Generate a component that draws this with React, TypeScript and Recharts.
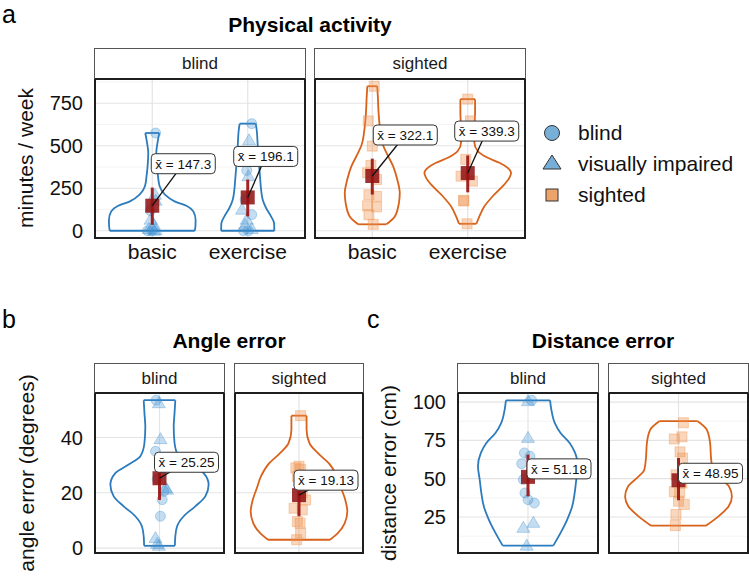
import { ScatterChart, Scatter, XAxis, YAxis, CartesianGrid } from "recharts";

const FONT = '"Liberation Sans", Arial, Helvetica, sans-serif';
const BLUE = "#2b7bbd";
const ORANGE = "#d8621a";
const MEAN_RED = "#8e0f0f";
const PAD = 14;

// ---------- a: physical activity (minutes / week) ----------
const activityCats = ["basic", "exercise"];
const activityTicks = [0, 250, 500, 750];
const activityMinor = [125, 375, 625, 875];

const actBlindBasicLevels = [0, 25, 65, 114, 144, 173, 213, 262, 321, 380, 459, 518, 575];
const actBlindBasicWidths = [0.445, 0.452, 0.454, 0.43, 0.367, 0.234, 0.133, 0.077, 0.06, 0.049, 0.042, 0.055, 0.073];
const actBlindBasicValues = [575, 212, 177, 118, 65, 35, 10, 5, 0, 0, 0];
const actBlindBasicJitter = [0.035, 0.028, 0.035, -0.02, -0.017, 0.017, -0.035, 0.035, -0.05, 0, 0.02];
const actBlindBasicGroups = ["c", "t", "t", "c", "t", "t", "t", "t", "c", "c", "t"];

const actBlindExLevels = [0, 45, 85, 134, 183, 242, 301, 399, 498, 597, 630];
const actBlindExWidths = [0.279, 0.276, 0.244, 0.192, 0.157, 0.14, 0.131, 0.117, 0.105, 0.093, 0.084];
const actBlindExValues = [630, 532, 404, 355, 321, 183, 124, 95, 65, 35, 10, 0, 0];
const actBlindExJitter = [0.042, 0.014, -0.01, -0.01, 0.007, -0.028, -0.06, 0.042, -0.01, -0.028, 0.042, -0.045, 0.007];
const actBlindExGroups = ["c", "t", "t", "c", "t", "c", "t", "c", "t", "t", "t", "c", "c"];

const actSightedBasicLevels = [38, 84, 163, 222, 301, 380, 439, 503, 597, 695, 794, 850];
const actSightedBasicWidths = [0.148, 0.236, 0.279, 0.288, 0.262, 0.218, 0.166, 0.113, 0.082, 0.066, 0.058, 0.052];
const actSightedBasicValues = [850, 646, 498, 384, 341, 301, 212, 202, 147, 140, 94, 38];
const actSightedBasicJitter = [0.021, -0.042, 0, -0.014, -0.049, 0.045, -0.035, 0.045, -0.049, 0.045, -0.035, 0.01];

const actSightedExLevels = [41, 85, 144, 203, 262, 311, 340, 370, 400, 429, 469, 518, 597, 696, 774];
const actSightedExWidths = [0.091, 0.122, 0.175, 0.262, 0.367, 0.436, 0.454, 0.419, 0.332, 0.209, 0.105, 0.07, 0.07, 0.077, 0.077];
const actSightedExValues = [774, 646, 420, 321, 292, 179, 175, 41];
const actSightedExJitter = [0, 0.028, -0.02, -0.07, 0.05, -0.042, -0.042, -0.007];

const actMeans = [147.3, 196.1, 322.1, 339.3];
const actCiLow = [35, 85, 213, 226];
const actCiHigh = [254, 301, 424, 443];

// ---------- b: angle error (degrees) ----------
const angleTicks = [0, 20, 40];

const angBlindLevels = [0.8, 4.2, 7.8, 11.5, 15.1, 18.7, 22.9, 27.1, 30.2, 33.2, 38, 44, 48.8, 53.5];
const angBlindWidths = [0.143, 0.147, 0.163, 0.225, 0.333, 0.426, 0.457, 0.411, 0.287, 0.178, 0.14, 0.132, 0.14, 0.147];
const angBlindValues = [53.5, 52.4, 39.4, 35, 25, 21.7, 21.1, 20.5, 17.5, 11.5, 3.6, 1.5, 0.8];
const angBlindJitter = [-0.031, -0.006, 0.009, -0.037, -0.022, 0.056, 0.07, 0.04, 0.025, 0.009, -0.037, -0.022, -0.006];
const angBlindGroups = ["c", "t", "t", "c", "c", "t", "t", "c", "c", "c", "t", "t", "t"];

const angSightedLevels = [3, 5.4, 9, 13.3, 17.4, 21.7, 25.9, 30.7, 34.3, 38, 42.8, 47.9];
const angSightedWidths = [0.291, 0.364, 0.429, 0.453, 0.434, 0.395, 0.357, 0.279, 0.178, 0.098, 0.071, 0.071];
const angSightedValues = [47.9, 29.6, 29, 28.5, 25.9, 19.9, 17.4, 14.4, 13.8, 9.6, 9, 5.4, 3];
const angSightedJitter = [0.015, 0, -0.03, 0.015, -0.015, 0.03, 0.062, -0.046, 0.031, -0.015, 0.01, 0.015, -0.022];

const angMeans = [25.25, 19.13];
const angCiLow = [17.4, 11.5];
const angCiHigh = [33.1, 26.8];

// ---------- c: distance error (cm) ----------
const distTicks = [25, 50, 75, 100];
const distMinor = [12.5, 37.5, 62.5, 87.5];

const distBlindLevels = [6.3, 14.6, 23.3, 32, 40.7, 49.4, 58.1, 66.8, 73.3, 79.8, 86.4, 95.1, 101.1];
const distBlindWidths = [0.217, 0.279, 0.336, 0.379, 0.4, 0.414, 0.429, 0.404, 0.357, 0.279, 0.229, 0.2, 0.189];
const distBlindValues = [101.1, 100.6, 76.6, 66.8, 64.6, 59.8, 49.4, 40.7, 36.3, 34.1, 21.2, 17.9, 6.3];
const distBlindJitter = [0.031, 0, 0, -0.031, 0.017, -0.054, -0.04, -0.026, 0, 0.054, 0.046, -0.04, -0.011];
const distBlindGroups = ["c", "t", "t", "c", "c", "c", "c", "c", "c", "c", "t", "t", "t"];

const distSightedLevels = [19.3, 25.4, 31.9, 38.4, 44.9, 50.4, 55.8, 63.4, 73.2, 81.9, 87.5];
const distSightedWidths = [0.237, 0.345, 0.432, 0.461, 0.436, 0.36, 0.295, 0.281, 0.273, 0.245, 0.166];
const distSightedValues = [86.5, 77.3, 75.9, 67.5, 63.4, 52.5, 47.1, 41.6, 40.7, 35.3, 33.2, 26.6, 19.4];
const distSightedJitter = [0.042, 0.03, -0.036, 0.013, 0.035, -0.022, 0.03, -0.036, 0.01, 0, 0.05, -0.022, -0.027];

const distMeans = [51.18, 48.95];
const distCiLow = [38.5, 35.9];
const distCiHigh = [65.7, 63.5];

const legendLabels = ["blind", "visually impaired", "sighted"];

type ViolinSpec = {
  cat: number;
  levels: number[];
  widths: number[];
  values: number[];
  jitter: number[];
  groups: string[];
  mean: number;
  lo: number;
  hi: number;
  color: string;
  labelDx: number;
  labelDy: number;
};

const noShape = () => <g />;

const circleShape = (p: any) => (
  <circle cx={p.cx} cy={p.cy} r={5} fill="#3d8fd1" fillOpacity={0.3} stroke="#3d8fd1" strokeOpacity={0.35} />
);
const triangleShape = (p: any) => (
  <polygon
    points={`${p.cx},${p.cy - 6.5} ${p.cx - 6.5},${p.cy + 4.5} ${p.cx + 6.5},${p.cy + 4.5}`}
    fill="#3d8fd1"
    fillOpacity={0.3}
    stroke="#3d8fd1"
    strokeOpacity={0.35}
  />
);
const squareShape = (p: any) => (
  <rect x={p.cx - 5} y={p.cy - 5} width={10} height={10} fill="#ee9350" fillOpacity={0.38} stroke="#ee9350" strokeOpacity={0.4} />
);
const meanShape = (p: any) => (
  <rect x={p.cx - 7} y={p.cy - 7} width={14} height={14} fill={MEAN_RED} fillOpacity={0.85} />
);
const labelShape = (p: any) => {
  const d = p.payload;
  const bx = p.cx + d.dx;
  const by = p.cy + d.dy;
  return (
    <g>
      <line x1={p.cx} y1={p.cy} x2={bx} y2={by} stroke="#111" strokeWidth={1.3} />
      <rect x={bx - 32} y={by - 10} width={64} height={20} rx={4} fill="#fff" stroke="#333" strokeWidth={1} />
      <text x={bx} y={by + 5} textAnchor="middle" fontSize={13.5} fontFamily={FONT} fill="#111">
        {`x\u0304 = ${d.text}`}
      </text>
    </g>
  );
};

function Facet(props: {
  left: number;
  top: number;
  pw: number;
  ph: number;
  stripH: number;
  strip: string;
  xDomain: [number, number];
  yDomain: [number, number];
  majorY: number[];
  minorY: number[];
  violins: ViolinSpec[];
  axisW?: number;
  yTicks?: number[];
  cats?: string[];
  xAxisH?: number;
}) {
  const { left, top, pw, ph, stripH, strip, xDomain, yDomain, majorY, minorY, violins } = props;
  const axisW = props.axisW || 0;
  const xAxisH = props.xAxisH || 0;
  const catCenters = violins.map((v) => v.cat);

  const outlines: { key: string; data: { x: number; y: number }[]; curve: "monotoneY" | "linear"; color: string }[] = [];
  const circles: { x: number; y: number }[] = [];
  const triangles: { x: number; y: number }[] = [];
  const squares: { x: number; y: number }[] = [];
  violins.forEach((v, k) => {
    const l = v.levels.map((lv, i) => ({ x: v.cat - v.widths[i], y: lv }));
    const r = v.levels.map((lv, i) => ({ x: v.cat + v.widths[i], y: lv }));
    const n = l.length - 1;
    outlines.push({ key: `l${k}`, data: l, curve: "monotoneY", color: v.color });
    outlines.push({ key: `r${k}`, data: r, curve: "monotoneY", color: v.color });
    outlines.push({ key: `b${k}`, data: [l[0], r[0]], curve: "linear", color: v.color });
    outlines.push({ key: `t${k}`, data: [l[n], r[n]], curve: "linear", color: v.color });
    v.values.forEach((val, i) => {
      const pt = { x: v.cat + v.jitter[i], y: val };
      const g = v.groups[i];
      if (g === "c") circles.push(pt);
      else if (g === "t") triangles.push(pt);
      else squares.push(pt);
    });
  });
  const means = violins.map((v) => ({ x: v.cat, y: v.mean, text: String(v.mean), dx: v.labelDx, dy: v.labelDy }));

  return (
    <>
      <div style={{ position: "absolute", left: left - axisW, top: top - PAD }}>
        <ScatterChart
          width={pw + axisW}
          height={ph + xAxisH + 2 * PAD}
          margin={{ top: PAD, right: 0, bottom: PAD, left: 0 }}
        >
          <XAxis
            type="number"
            dataKey="x"
            domain={xDomain}
            allowDataOverflow
            hide={!props.cats}
            height={xAxisH}
            ticks={catCenters}
            interval={0}
            tickFormatter={(t: number) => (props.cats ? props.cats[Math.round(t) - 1] : "")}
            axisLine={false}
            tickLine={false}
            tickSize={0}
            tickMargin={6}
            tick={{ fill: "#111", fontSize: 21, fontFamily: FONT }}
          />
          <YAxis
            type="number"
            dataKey="y"
            domain={yDomain}
            allowDataOverflow
            hide={!axisW}
            width={axisW}
            ticks={props.yTicks}
            interval={0}
            axisLine={false}
            tickLine={false}
            tickSize={0}
            tickMargin={12}
            tick={{ fill: "#111", fontSize: 20, fontFamily: FONT }}
          />
          {minorY.length > 0 && (
            <CartesianGrid horizontalValues={minorY} vertical={false} stroke="#f1f1f1" strokeWidth={0.8} />
          )}
          <CartesianGrid horizontalValues={majorY} verticalValues={catCenters} stroke="#e4e4e4" strokeWidth={1.2} />
          {outlines.map((o) => (
            <Scatter
              key={o.key}
              data={o.data}
              line={{ stroke: o.color, strokeWidth: 1.8 }}
              lineType="joint"
              lineJointType={o.curve}
              shape={noShape}
              fill="none"
              isAnimationActive={false}
            />
          ))}
          <Scatter data={circles} shape={circleShape} isAnimationActive={false} />
          <Scatter data={triangles} shape={triangleShape} isAnimationActive={false} />
          <Scatter data={squares} shape={squareShape} isAnimationActive={false} />
          <Scatter data={means} shape={meanShape} isAnimationActive={false} />
          {violins.map((v, k) => (
            <Scatter
              key={`e${k}`}
              data={[
                { x: v.cat, y: v.lo },
                { x: v.cat, y: v.hi },
              ]}
              line={{ stroke: "#9a1010", strokeWidth: 3, strokeOpacity: 0.9 }}
              lineType="joint"
              shape={noShape}
              fill="none"
              isAnimationActive={false}
            />
          ))}
          <Scatter data={means} shape={labelShape} isAnimationActive={false} />
        </ScatterChart>
      </div>
      <div
        style={{
          position: "absolute",
          left: left - 1,
          top: top - 1,
          width: pw + 2,
          height: ph + 2,
          border: "2px solid #1e1e1e",
          boxSizing: "border-box",
          pointerEvents: "none",
        }}
      />
      <div
        style={{
          position: "absolute",
          left: left - 1,
          top: top - stripH,
          width: pw + 2,
          height: stripH,
          border: "1px solid #555",
          borderBottom: "none",
          boxSizing: "border-box",
          textAlign: "center",
          lineHeight: `${stripH - 1}px`,
          fontSize: 17,
          fontFamily: FONT,
          color: "#1a1a1a",
        }}
      >
        {strip}
      </div>
    </>
  );
}

function Title({ x, y, text }: { x: number; y: number; text: string }) {
  return (
    <div
      style={{
        position: "absolute",
        left: x,
        top: y,
        transform: "translate(-50%, -50%)",
        fontFamily: FONT,
        fontWeight: "bold",
        fontSize: 21,
        whiteSpace: "nowrap",
        color: "#000",
      }}
    >
      {text}
    </div>
  );
}

function Tag({ x, y, text }: { x: number; y: number; text: string }) {
  return (
    <div style={{ position: "absolute", left: x, top: y, fontFamily: FONT, fontSize: 25, lineHeight: "normal", color: "#000" }}>
      {text}
    </div>
  );
}

function YTitle({ x, y, text }: { x: number; y: number; text: string }) {
  return (
    <div
      style={{
        position: "absolute",
        left: x,
        top: y,
        transform: "translate(-50%, -50%) rotate(-90deg)",
        fontFamily: FONT,
        fontSize: 21,
        whiteSpace: "nowrap",
        color: "#111",
      }}
    >
      {text}
    </div>
  );
}

function Legend() {
  return (
    <svg style={{ position: "absolute", left: 540, top: 115 }} width={209} height={100}>
      <circle cx={12} cy={18} r={7.5} fill="#78afd8" stroke="#333" strokeWidth={1} />
      <polygon points="12,40 3,54 21,54" fill="#78afd8" stroke="#333" strokeWidth={1} />
      <rect x={6} y={74} width={12} height={12} fill="#eda36a" stroke="#333" strokeWidth={1} />
      {legendLabels.map((t, i) => (
        <text key={t} x={38} y={25 + i * 31} fontSize={21} fontFamily={FONT} fill="#111">
          {t}
        </text>
      ))}
    </svg>
  );
}

export default function App() {
  const actBlind: ViolinSpec[] = [
    {
      cat: 1, levels: actBlindBasicLevels, widths: actBlindBasicWidths, values: actBlindBasicValues,
      jitter: actBlindBasicJitter, groups: actBlindBasicGroups, mean: actMeans[0], lo: actCiLow[0], hi: actCiHigh[0],
      color: BLUE, labelDx: 31, labelDy: -42,
    },
    {
      cat: 2, levels: actBlindExLevels, widths: actBlindExWidths, values: actBlindExValues,
      jitter: actBlindExJitter, groups: actBlindExGroups, mean: actMeans[1], lo: actCiLow[1], hi: actCiHigh[1],
      color: BLUE, labelDx: 18, labelDy: -41,
    },
  ];
  const actSighted: ViolinSpec[] = [
    {
      cat: 1, levels: actSightedBasicLevels, widths: actSightedBasicWidths, values: actSightedBasicValues,
      jitter: actSightedBasicJitter, groups: actSightedBasicValues.map(() => "s"), mean: actMeans[2], lo: actCiLow[2], hi: actCiHigh[2],
      color: ORANGE, labelDx: 33, labelDy: -41,
    },
    {
      cat: 2, levels: actSightedExLevels, widths: actSightedExWidths, values: actSightedExValues,
      jitter: actSightedExJitter, groups: actSightedExValues.map(() => "s"), mean: actMeans[3], lo: actCiLow[3], hi: actCiHigh[3],
      color: ORANGE, labelDx: 19, labelDy: -42,
    },
  ];
  const angBlind: ViolinSpec[] = [
    {
      cat: 1, levels: angBlindLevels, widths: angBlindWidths, values: angBlindValues, jitter: angBlindJitter,
      groups: angBlindGroups, mean: angMeans[0], lo: angCiLow[0], hi: angCiHigh[0], color: BLUE, labelDx: 27, labelDy: -16,
    },
  ];
  const angSighted: ViolinSpec[] = [
    {
      cat: 1, levels: angSightedLevels, widths: angSightedWidths, values: angSightedValues, jitter: angSightedJitter,
      groups: angSightedValues.map(() => "s"), mean: angMeans[1], lo: angCiLow[1], hi: angCiHigh[1], color: ORANGE, labelDx: 27, labelDy: -15,
    },
  ];
  const distBlind: ViolinSpec[] = [
    {
      cat: 1, levels: distBlindLevels, widths: distBlindWidths, values: distBlindValues, jitter: distBlindJitter,
      groups: distBlindGroups, mean: distMeans[0], lo: distCiLow[0], hi: distCiHigh[0], color: BLUE, labelDx: 31, labelDy: -8,
    },
  ];
  const distSighted: ViolinSpec[] = [
    {
      cat: 1, levels: distSightedLevels, widths: distSightedWidths, values: distSightedValues, jitter: distSightedJitter,
      groups: distSightedValues.map(() => "s"), mean: distMeans[1], lo: distCiLow[1], hi: distCiHigh[1], color: ORANGE, labelDx: 32, labelDy: -7,
    },
  ];

  const actY: [number, number] = [-42.5, 892.5];
  const angY: [number, number] = [-1.8, 56.1];
  const distY: [number, number] = [1.5, 105.9];

  return (
    <div style={{ position: "absolute", left: 0, top: 0, width: 749, height: 576, background: "#fff", overflow: "hidden" }}>
      <Tag x={2} y={0} text="a" />
      <Title x={310} y={25} text="Physical activity" />
      <YTitle x={26} y={158} text="minutes / week" />
      <Facet
        left={95} top={79} pw={210} ph={159} stripH={31} strip="blind"
        xDomain={[0.4, 2.6]} yDomain={actY} majorY={activityTicks} minorY={activityMinor}
        violins={actBlind} axisW={95} yTicks={activityTicks} cats={activityCats} xAxisH={30}
      />
      <Facet
        left={315} top={79} pw={210} ph={159} stripH={31} strip="sighted"
        xDomain={[0.4, 2.6]} yDomain={actY} majorY={activityTicks} minorY={activityMinor}
        violins={actSighted} cats={activityCats} xAxisH={30}
      />
      <Legend />

      <Tag x={2} y={305} text="b" />
      <Title x={229} y={341} text="Angle error" />
      <YTitle x={27} y={473} text="angle error (degrees)" />
      <Facet
        left={95} top={393} pw={129} ph={160} stripH={30} strip="blind"
        xDomain={[0.4, 1.6]} yDomain={angY} majorY={angleTicks} minorY={[]}
        violins={angBlind} axisW={95} yTicks={angleTicks}
      />
      <Facet
        left={235} top={393} pw={128} ph={160} stripH={30} strip="sighted"
        xDomain={[0.4, 1.6]} yDomain={angY} majorY={angleTicks} minorY={[]}
        violins={angSighted}
      />

      <Tag x={367} y={305} text="c" />
      <Title x={603} y={341} text="Distance error" />
      <YTitle x={389} y={473} text="distance error (cm)" />
      <Facet
        left={458} top={393} pw={140} ph={160} stripH={30} strip="blind"
        xDomain={[0.4, 1.6]} yDomain={distY} majorY={distTicks} minorY={distMinor}
        violins={distBlind} axisW={88} yTicks={distTicks}
      />
      <Facet
        left={609} top={393} pw={139} ph={160} stripH={30} strip="sighted"
        xDomain={[0.4, 1.6]} yDomain={distY} majorY={distTicks} minorY={distMinor}
        violins={distSighted}
      />
    </div>
  );
}
